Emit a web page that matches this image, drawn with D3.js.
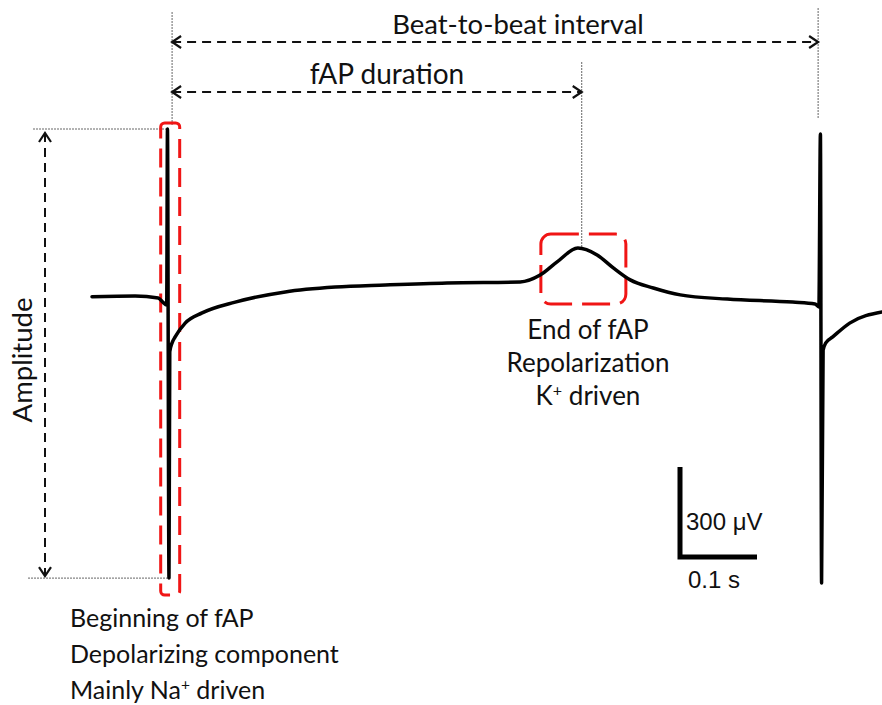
<!DOCTYPE html>
<html>
<head>
<meta charset="utf-8">
<script src="https://cdn.jsdelivr.net/npm/d3@7"></script>
<style>
  body { margin: 0; background: #fff; }
  text { font-family: Lato, "Open Sans", sans-serif; fill: #111; }
</style>
</head>
<body>
<div class="trace"></div>
<script>
var width = 882,
    height = 705;

// field potential trace (time in ms, voltage in uV)
var timeMs = [0, 56, 86, 92, 97, 98, 100, 101, 104, 108, 121, 143, 186, 251, 316, 381, 461, 556, 582, 604,
  631, 656, 677, 699, 729, 764, 825, 910, 939, 944, 946, 947.5, 949.5, 953, 962, 984, 1026];
var voltageUv = [1, 3, -3, -17, -27, 560, -937, -183, -153, -133, -87, -53, -17, 17, 33, 40, 47, 50, 73, 117,
  163, 140, 97, 57, 30, 7, -7, -17, -23, -33, 543, -953, -177, -153, -133, -87, -50];

// where the dotted guides sit (ms): start of fAP, end of fAP, next beat
var guideMs = [104, 636, 943];

var scaleBar = {ms: 100, uv: 300};

var intervalLabels = ["Beat-to-beat interval", "fAP duration"];
var startLabels = ["Beginning of fAP", "Depolarizing component", "Mainly Na|+| driven"];
var endLabels = ["End of fAP", "Repolarization", "K|+| driven"];

var data = timeMs.map(function(t, i) { return {t: t, v: voltageUv[i]}; });

var x = d3.scaleLinear().domain([0, 1000]).range([92, 862]);
var y = d3.scaleLinear().domain([-1000, 600]).range([597, 117]);

var svg = d3.select(".trace").append("svg")
    .attr("width", width)
    .attr("height", height);

// text with a "|+|" marker turned into a superscript
function supText(sel, str) {
  var parts = str.split("|");
  parts.forEach(function(p, i) {
    var ts = sel.append("tspan").text(p);
    if (i % 2 == 1) ts.attr("font-size", "0.62em").attr("dy", "-0.55em");
    else if (i > 0) ts.attr("dy", "0.34em");
  });
}

function chevron(px, py, angle) {
  svg.append("path")
      .attr("d", "M-9,-6L0,0L-9,6")
      .attr("transform", "translate(" + px + "," + py + ") rotate(" + angle + ")")
      .attr("fill", "none")
      .attr("stroke", "#111")
      .attr("stroke-width", 2.2);
}

function dashedArrow(x1, y1, x2, y2) {
  svg.append("line")
      .attr("x1", x1).attr("y1", y1).attr("x2", x2).attr("y2", y2)
      .attr("stroke", "#111")
      .attr("stroke-width", 2)
      .attr("stroke-dasharray", "9,6");
  var a = Math.atan2(y2 - y1, x2 - x1) * 180 / Math.PI;
  chevron(x2, y2, a);
  chevron(x1, y1, a + 180);
}

function guide(x1, y1, x2, y2) {
  svg.append("line")
      .attr("x1", x1).attr("y1", y1).attr("x2", x2).attr("y2", y2)
      .attr("stroke", "#666")
      .attr("stroke-width", 1)
      .attr("stroke-dasharray", "2,1");
}

// first beat extremes
var firstBeat = data.filter(function(d) { return d.t < 500; });
var vMax = d3.max(firstBeat, function(d) { return d.v; }),
    vMin = d3.min(firstBeat, function(d) { return d.v; });
var peak = data.filter(function(d) { return d.t > 500 && d.t < 800; })
    .reduce(function(a, b) { return b.v > a.v ? b : a; });

// dotted guides
guide(x(guideMs[0]), 12, x(guideMs[0]), y(vMax) - 4);
guide(x(guideMs[1]), 62, x(guideMs[1]), y(peak.v));
guide(x(guideMs[2]), 8, x(guideMs[2]), y(543) - 16);
guide(33, y(vMax), x(97), y(vMax));
guide(28, y(vMin), x(99), y(vMin));

// interval arrows
dashedArrow(x(guideMs[0]), 42, x(guideMs[2]), 42);
dashedArrow(x(guideMs[0]), 92, x(guideMs[1]), 92);

svg.append("text")
    .attr("x", 518).attr("y", 34)
    .attr("text-anchor", "middle")
    .attr("font-size", 27.5)
    .text(intervalLabels[0]);
svg.append("text")
    .attr("x", 387).attr("y", 84)
    .attr("text-anchor", "middle")
    .attr("font-size", 28)
    .text(intervalLabels[1]);

// amplitude arrow
dashedArrow(45, y(vMax) + 4, 45, y(vMin) - 2);
svg.append("text")
    .attr("transform", "translate(32,360) rotate(-90)")
    .attr("text-anchor", "middle")
    .attr("font-size", 27.5)
    .text("Amplitude");

// red boxes
svg.append("rect")
    .attr("x", x(timeMs[4]) - 6).attr("y", y(vMax) - 6)
    .attr("width", 19).attr("height", y(vMin) - y(vMax) + 23)
    .attr("rx", 4)
    .attr("fill", "none")
    .attr("stroke", "#f01515")
    .attr("stroke-width", 3)
    .attr("stroke-dasharray", "19,10");
svg.append("rect")
    .attr("x", x(peak.t) - 37).attr("y", y(peak.v) - 14)
    .attr("width", 85).attr("height", 70)
    .attr("rx", 10)
    .attr("fill", "none")
    .attr("stroke", "#f01515")
    .attr("stroke-width", 3)
    .attr("stroke-dasharray", "28,10");

// the trace
var line = d3.line()
    .x(function(d) { return x(d.t); })
    .y(function(d) { return y(d.v); })
    .curve(d3.curveMonotoneX);

svg.append("path")
    .datum(data)
    .attr("fill", "none")
    .attr("stroke", "#000")
    .attr("stroke-width", 3.5)
    .attr("stroke-linejoin", "round")
    .attr("stroke-linecap", "round")
    .attr("d", line);

// labels
startLabels.forEach(function(s, i) {
  var t = svg.append("text")
      .attr("x", 70).attr("y", 627 + i * 36)
      .attr("font-size", 25);
  supText(t, s);
});
endLabels.forEach(function(s, i) {
  var t = svg.append("text")
      .attr("x", 588).attr("y", 339 + i * 33)
      .attr("text-anchor", "middle")
      .attr("font-size", 26);
  supText(t, s);
});

// scale bar
var sx = 680, sy = 557;
svg.append("path")
    .attr("d", "M" + sx + "," + (sy - (y(0) - y(scaleBar.uv))) + "V" + sy + "H" + (sx + x(scaleBar.ms) - x(0)))
    .attr("fill", "none")
    .attr("stroke", "#000")
    .attr("stroke-width", 5);
svg.append("text")
    .attr("x", 686).attr("y", 530)
    .style("font-family", "'Liberation Sans', Arial, sans-serif")
    .attr("font-size", 24)
    .text("300 \u03bcV");
svg.append("text")
    .attr("x", 688).attr("y", 588)
    .style("font-family", "'Liberation Sans', Arial, sans-serif")
    .attr("font-size", 24)
    .text("0.1 s");
</script>
</body>
</html>
